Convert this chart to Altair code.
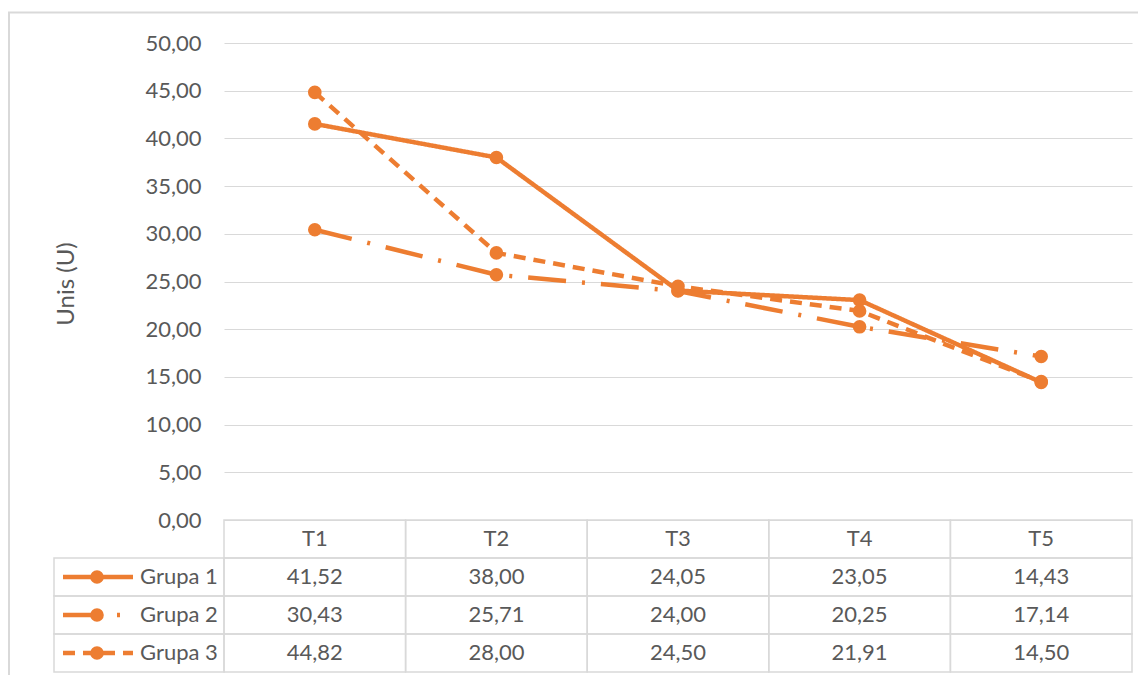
import altair as alt
import pandas as pd

# ---- data ----
periods = ["T1", "T2", "T3", "T4", "T5"]
groups = ["Grupa 1", "Grupa 2", "Grupa 3"]
grupa1 = [41.52, 38.00, 24.05, 23.05, 14.43]
grupa2 = [30.43, 25.71, 24.00, 20.25, 17.14]
grupa3 = [44.82, 28.00, 24.50, 21.91, 14.50]
y_ticks = [0, 5, 10, 15, 20, 25, 30, 35, 40, 45, 50]
y_title = "Unis (U)"

rows = []
for g, vals in zip(groups, [grupa1, grupa2, grupa3]):
    for p, v in zip(periods, vals):
        rows.append({"group": g, "period": p, "value": v, "row": g})
df = pd.DataFrame(rows)

row_domain = [""] + groups
cells_df = pd.DataFrame([{"period": p, "row": r} for r in row_domain for p in periods])
header_df = pd.DataFrame({"period": periods, "row": [""] * len(periods)})
legend_df = pd.DataFrame({"group": groups, "row": groups})

# ---- style ----
ORANGE = "#ED7D31"
TEXT = "#595959"
GRID = "#D9D9D9"
FONT = "Lato"
FS = 22
W, H = 908, 477
ROW_H = 38
LW = 4.5

x_enc = alt.X("period:N", sort=periods,
              scale=alt.Scale(domain=periods, paddingInner=0, paddingOuter=0),
              axis=None)
dash_scale = alt.Scale(domain=groups, range=[[1, 0], [38, 16, 3, 16], [12, 8]])

label_expr = "replace(format(datum.value, '.2f'), '.', ',')"
y_val = alt.Y("value:Q",
              scale=alt.Scale(domain=[0, 50], nice=False),
              axis=alt.Axis(values=y_ticks, grid=True, gridColor=GRID, gridWidth=1,
                            domain=False, ticks=False, labelPadding=23,
                            labelExpr=label_expr, labelFont=FONT, labelFontSize=FS,
                            labelColor=TEXT, title=y_title, titleFont=FONT,
                            titleFontSize=24, titleFontWeight="normal", titleColor=TEXT,
                            titleAngle=270, titleX=-151, titleY=H / 2 + 2,
                            titleAlign="center", titleBaseline="alphabetic"))

border = alt.Chart(pd.DataFrame({"a": [0]})).mark_rect(
    fill="white", fillOpacity=0, stroke=GRID, strokeWidth=2
).encode(x=alt.value(-215), x2=alt.value(W + 80), y=alt.value(-30.5), y2=alt.value(H + 400))

lines = alt.Chart(df).mark_line(color=ORANGE, strokeWidth=LW).encode(
    x=x_enc, y=y_val,
    strokeDash=alt.StrokeDash("group:N", scale=dash_scale, legend=None),
    detail="group:N",
)
points = alt.Chart(df).mark_circle(color=ORANGE, size=185, opacity=1).encode(
    x=x_enc, y=y_val, detail="group:N"
)
plot_layer = alt.layer(border, lines, points)

y_row = alt.Y("row:N",
              scale=alt.Scale(domain=row_domain, range=[H, H + 4 * ROW_H],
                              paddingInner=0, paddingOuter=0),
              axis=None)

cells = alt.Chart(cells_df).mark_rect(
    fill="white", fillOpacity=0, stroke=GRID, strokeWidth=1.5
).encode(x=x_enc, y=y_row)
legend_cells = alt.Chart(legend_df).mark_rect(
    fill="white", fillOpacity=0, stroke=GRID, strokeWidth=1.5
).encode(x=alt.value(-170), x2=alt.value(0), y=y_row)
legend_lines = alt.Chart(legend_df).mark_rule(color=ORANGE, strokeWidth=LW).encode(
    x=alt.value(-161), x2=alt.value(-91), y=y_row,
    strokeDash=alt.StrokeDash("group:N", scale=dash_scale, legend=None),
)
legend_marks = alt.Chart(legend_df).mark_circle(color=ORANGE, size=185, opacity=1).encode(
    x=alt.value(-127), y=y_row
)
legend_text = alt.Chart(legend_df).mark_text(
    align="left", baseline="middle", font=FONT, fontSize=FS, color=TEXT
).encode(x=alt.value(-84), y=y_row, text="group:N")
header_text = alt.Chart(header_df).mark_text(
    align="center", baseline="middle", font=FONT, fontSize=FS, color=TEXT
).encode(x=x_enc, y=y_row, text="period:N")
value_text = alt.Chart(df).transform_calculate(
    label=label_expr
).mark_text(
    align="center", baseline="middle", font=FONT, fontSize=FS, color=TEXT
).encode(x=x_enc, y=y_row, text="label:N")

table_layer = alt.layer(cells, legend_cells, legend_lines, legend_marks,
                        legend_text, header_text, value_text)

chart = alt.layer(plot_layer, table_layer).resolve_scale(y="independent").properties(
    width=W, height=H,
    autosize=alt.AutoSizeParams(type="none"),
    padding={"left": 216, "top": 35, "right": 6, "bottom": 155},
    background="white",
).configure_view(stroke=None)

chart.save("out.html", embed_options={"renderer": "svg", "actions": False})
